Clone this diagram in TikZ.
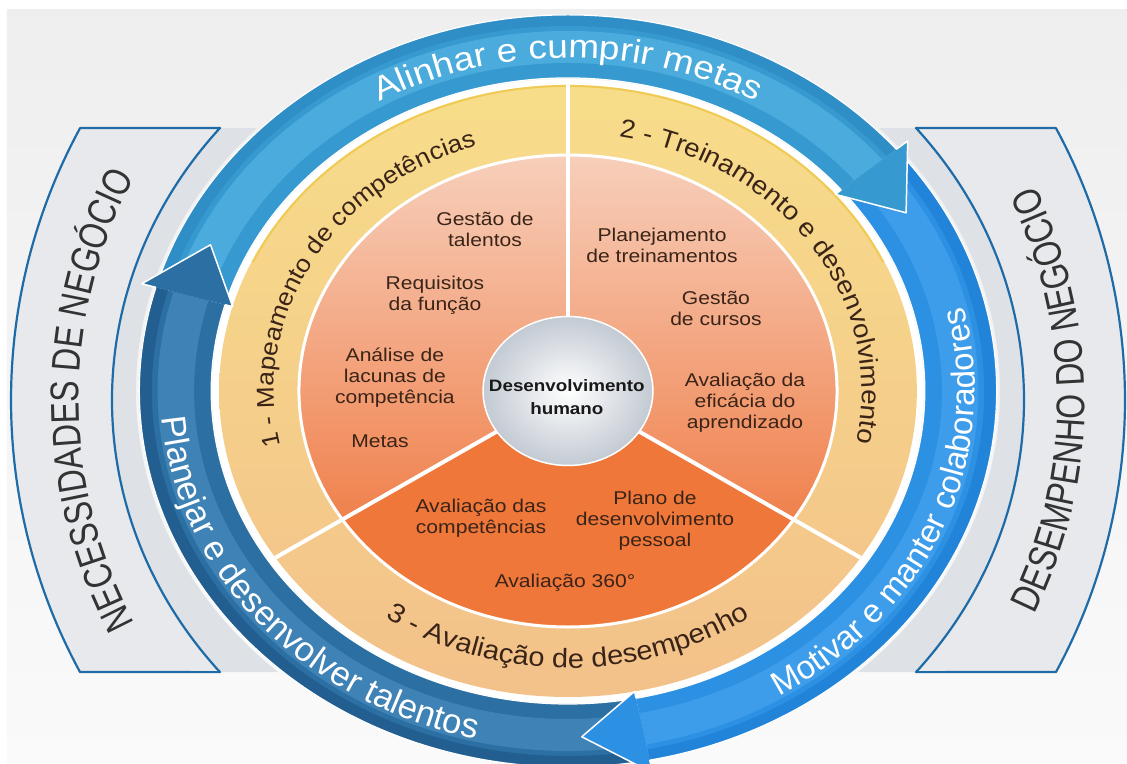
\documentclass[tikz,border=0pt]{standalone}
\usepackage{fontspec}
\setmainfont{Liberation Sans}
\newfontfamily\widefont[FakeStretch=1.12]{Liberation Sans}
\newfontfamily\yelfont[FakeStretch=1.08]{Liberation Sans}
\newfontfamily\tallfont[FakeStretch=0.8]{Liberation Sans}
\usetikzlibrary{decorations.text}
\definecolor{bnblue}{HTML}{1E6BA7}
\definecolor{bnfill}{HTML}{E7E9EC}
\definecolor{bnstripe}{HTML}{DEE2E6}
\definecolor{ylwtop}{HTML}{F7DD8A}
\definecolor{ylwmid}{HTML}{F7D8AA}
\definecolor{ylwbot}{HTML}{F3C18A}
\definecolor{ylwrim}{HTML}{EFCB55}
\definecolor{ortop}{HTML}{F7CFBB}
\definecolor{ormid}{HTML}{F39C72}
\definecolor{orbot}{HTML}{EE6A2C}
\definecolor{orthree}{HTML}{F0773A}
\definecolor{ctrout}{HTML}{C3CAD3}
\definecolor{medbase}{HTML}{3699CF}
\definecolor{medrim}{HTML}{2F8EC6}
\definecolor{medhi}{HTML}{4AABDC}
\definecolor{brtbase}{HTML}{2C90E3}
\definecolor{brtrim}{HTML}{2284D8}
\definecolor{brthi}{HTML}{3E9DEA}
\definecolor{dkbase}{HTML}{2C6FA2}
\definecolor{dkrim}{HTML}{225F90}
\definecolor{dkhi}{HTML}{3F82B5}
\definecolor{txtdark}{HTML}{3A2418}
\definecolor{bntxt}{HTML}{333333}
\newcommand\ringband[4]{(#1:#3) arc[start angle=#1,end angle=#2,radius=#3] -- (#2:#4) arc[start angle=#2,end angle=#1,radius=#4] -- cycle}
\newcommand\bannerpath{(-488,263) -- (-348,263) arc[start angle=139.74,end angle=220.26,x radius=456,y radius=421] -- (-488,-281) arc[start angle=208.82,end angle=151.18,x radius=557,y radius=564] -- cycle}
\newcommand\stripepath{(-348,263) arc[start angle=139.74,end angle=220.26,x radius=456,y radius=421] -- (-289.9,-281) arc[start angle=227.85,end angle=136.06,x radius=432,y radius=379] -- cycle}
\tikzset{
  itemtext/.style={align=center, text=txtdark, font=\fontsize{18.5}{21}\selectfont, inner sep=0pt},
  centertext/.style={align=center, text=black!90, font=\bfseries\fontsize{16.5}{23}\selectfont, inner sep=0pt},
  bannerline/.style={draw=bnblue, line width=2.2pt, line join=round},
  headline/.style={draw=white, line width=1.5pt, line join=round},
  edgeline/.style={draw=white, line width=1.2pt},
  divider/.style={draw=white, line width=4pt}
}
\begin{document}
\begin{tikzpicture}[x=1pt,y=1pt]
\useasboundingbox (-568,-372) rectangle (559,391);
% background
\fill[white] (-568,-372) rectangle (559,391);
\shade[top color=gray!13, bottom color=gray!4] (-561,-372) rectangle (559,381);

% banners
\fill[bnstripe] \stripepath;
\fill[bnfill] \bannerpath;
\path[bannerline] \bannerpath;
\begin{scope}[xscale=-1]
  \fill[bnstripe] \stripepath;
  \fill[bnfill] \bannerpath;
  \path[bannerline] \bannerpath;
\end{scope}

% circle space
\begin{scope}[xscale=1.14]
  \fill[white] (0,0) circle[radius=312pt];
  \shade[top color=ylwtop, middle color=ylwmid, bottom color=ylwbot] (0,0) circle[radius=306pt];
  \draw[ylwrim, line width=2pt] (25:305pt) arc[start angle=25,end angle=155,radius=305pt];
  \shade[top color=ortop, middle color=ormid, bottom color=orbot] (0,0) circle[radius=236pt];
  \fill[orthree] (0,0) -- (213:236pt) arc[start angle=213,end angle=327,radius=236pt] -- cycle;
  \draw[white, line width=3pt] (0,0) circle[radius=236pt];
  \draw[divider] (90:70pt) -- (90:306pt);
  \draw[divider] (213:70pt) -- (213:306pt);
  \draw[divider] (327:70pt) -- (327:306pt);
  \shade[inner color=white, outer color=ctrout] (0,0) circle[radius=74.5pt];
  \draw[white, line width=1.5pt] (0,0) circle[radius=74.5pt];

  % blue arrow bodies
  % dark: Planejar
  \fill[dkbase] \ringband{279}{164}{376pt}{313pt};
  \fill[dkrim] \ringband{279}{164}{376pt}{365pt};
  \fill[dkhi] \ringband{279}{164}{360pt}{328pt};
  \draw[edgeline] (279:376pt) arc[start angle=279,end angle=164,radius=376pt];
  \draw[edgeline] (279:313pt) arc[start angle=279,end angle=164,radius=313pt];
  % medium: Alinhar
  \fill[medbase] \ringband{162}{40}{376pt}{313pt};
  \fill[medrim] \ringband{162}{40}{376pt}{365pt};
  \fill[medhi] \ringband{162}{40}{360pt}{328pt};
  \draw[edgeline] (162:376pt) arc[start angle=162,end angle=40,radius=376pt];
  \draw[edgeline] (162:313pt) arc[start angle=162,end angle=40,radius=313pt];
  % bright: Motivar
  \fill[brtbase] \ringband{38}{-79}{376pt}{313pt};
  \fill[brtrim] \ringband{38}{-79}{376pt}{365pt};
  \fill[brthi] \ringband{38}{-79}{360pt}{328pt};
  \draw[edgeline] (38:376pt) arc[start angle=38,end angle=-79,radius=376pt];
  \draw[edgeline] (38:313pt) arc[start angle=38,end angle=-79,radius=313pt];

  % heads
  \fill[dkbase] (164:306pt) -- (164:389pt) -- (155:346pt) -- cycle;
  \path[headline] (164:376pt) -- (164:389pt) -- (155:346pt) -- (164:306pt) -- (164:313pt);
  \fill[medbase] (40:306pt) -- (40:389pt) -- (31:346pt) -- cycle;
  \path[headline] (40:376pt) -- (40:389pt) -- (31:346pt) -- (40:306pt) -- (40:313pt);
  \fill[brtbase] (-79:306pt) -- (-79:389pt) -- (-88:346pt) -- cycle;
  \path[headline] (-79:376pt) -- (-79:389pt) -- (-88:346pt) -- (-79:306pt) -- (-79:313pt);
\end{scope}

% straight texts (stretched like the picture)
\begin{scope}[xscale=1.14, transform shape]
  \node[centertext] (core) at (-1,-6) {Desenvolvimento\\humano};
  \node[itemtext] (gt) at (-72.8,162) {Gestão de\\talentos};
  \node[itemtext] (rf) at (-116.7,96) {Requisitos\\da função};
  \node[itemtext] (al) at (-151.8,13) {Análise de\\lacunas de\\competência};
  \node[itemtext] (mt) at (-164.9,-50) {Metas};
  \node[itemtext] (pt) at (82.5,146) {Planejamento\\de treinamentos};
  \node[itemtext] (gc) at (129.8,83) {Gestão\\de cursos};
  \node[itemtext] (ae) at (155.3,-12) {Avaliação da\\eficácia do\\aprendizado};
  \node[itemtext] (ac) at (-76.3,-127) {Avaliação das\\competências};
  \node[itemtext] (pd) at (76.3,-130) {Plano de\\desenvolvimento\\pessoal};
  \node[itemtext] (a360) at (-2.6,-192) {Avaliação 360°};
\end{scope}

% curved texts on the blue ring
\path[decorate, decoration={text along path, text align=center, text color=white,
  text={|\widefont\fontsize{33}{33}\selectfont|Alinhar e cumprir metas}}]
  (150:379.6pt and 333pt) arc[start angle=150,end angle=30,x radius=379.6pt,y radius=333pt];
\path[decorate, decoration={text along path, text align=center, text color=white,
  text={|\fontsize{33}{33}\selectfont|Motivar e manter colaboradores}}]
  (-100:407pt and 357pt) arc[start angle=-100,end angle=58,x radius=407pt,y radius=357pt];
\path[decorate, decoration={text along path, text align=center, text color=white,
  text={|\fontsize{34.5}{34.5}\selectfont|Planejar e desenvolver talentos}}]
  (142.5:407pt and 357pt) arc[start angle=142.5,end angle=294.5,x radius=407pt,y radius=357pt];

% curved texts on the yellow ring
\path[decorate, decoration={text along path, text align=center, text color=txtdark,
  text={|\yelfont\fontsize{24.3}{24.3}\selectfont|1 - Mapeamento de competências}}]
  (221.5:294pt and 258pt) arc[start angle=221.5,end angle=81.5,x radius=294pt,y radius=258pt];
\path[decorate, decoration={text along path, text align=center, text color=txtdark,
  text={|\yelfont\fontsize{25.7}{25.7}\selectfont|2 - Treinamento e desenvolvimento}}]
  (103.5:294pt and 258pt) arc[start angle=103.5,end angle=-37.5,x radius=294pt,y radius=258pt];
\path[decorate, decoration={text along path, text align=center, text color=txtdark,
  text={|\yelfont\fontsize{26.8}{26.8}\selectfont|3 - Avaliação de desempenho}}]
  (200:316pt and 277pt) arc[start angle=200,end angle=340,x radius=316pt,y radius=277pt];

% banner texts
\path[shift={(0,-9)}, decorate, decoration={text along path, text align=center, text color=bntxt,
  text={|\tallfont\fontsize{40}{40}\selectfont|NECESSIDADES DE NEGÓCIO}}]
  (214:489pt and 482pt) arc[start angle=214,end angle=146,x radius=489pt,y radius=482pt];
\path[shift={(0,-9)}, decorate, decoration={text along path, text align=center, text color=bntxt,
  text={|\tallfont\fontsize{40}{40}\selectfont|DESEMPENHO DO NEGÓCIO}}]
  (-34:517pt and 498pt) arc[start angle=-34,end angle=34,x radius=517pt,y radius=498pt];
\end{tikzpicture}
\end{document}
